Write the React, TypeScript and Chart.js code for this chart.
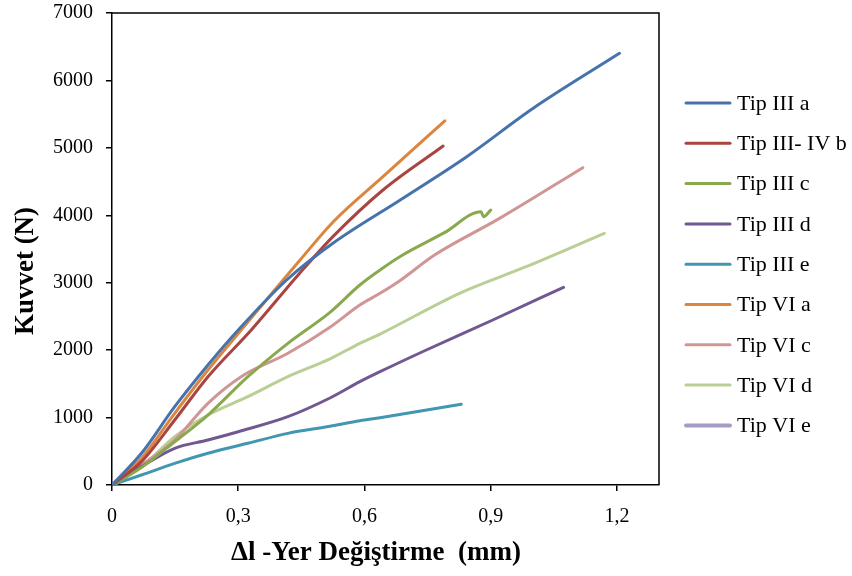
import React, { useEffect, useRef } from "react";
import { Chart, registerables } from "chart.js";

Chart.register(...registerables);

// ---- data ----
const SERIES_NAMES = [
  "Tip III a",
  "Tip III- IV b",
  "Tip III c",
  "Tip III d",
  "Tip III e",
  "Tip VI a",
  "Tip VI c",
  "Tip VI d",
  "Tip VI e",
];
const SERIES_COLORS = [
  "#4673AB",
  "#A94441",
  "#8AA84E",
  "#715892",
  "#4197B0",
  "#DC853F",
  "#D09694",
  "#B9CF96",
  "#A79BC3",
];

const tip3a_x = [0, 0.07, 0.149, 0.228, 0.3, 0.415, 0.525, 0.685, 0.843, 1.001, 1.206];
const tip3a_y = [0, 470, 1161, 1780, 2299, 3040, 3585, 4227, 4869, 5587, 6402];

const tip34b_x = [0, 0.07, 0.149, 0.228, 0.331, 0.446, 0.525, 0.644, 0.787];
const tip34b_y = [0, 346, 964, 1606, 2299, 3140, 3683, 4375, 5027];

const tip3c_x = [0, 0.07, 0.149, 0.228, 0.323, 0.418, 0.518, 0.589, 0.637, 0.684, 0.79, 0.877, 0.883, 0.9];
const tip3c_y = [0, 260, 642, 1038, 1606, 2101, 2560, 2966, 3189, 3386, 3742, 4053, 3980, 4078];

const tip3d_x = [0, 0.07, 0.149, 0.228, 0.3, 0.418, 0.518, 0.589, 0.637, 0.747, 0.905, 1.073];
const tip3d_y = [0, 272, 544, 667, 790, 1013, 1290, 1532, 1680, 2002, 2447, 2932];

const tip3e_x = [0, 0.07, 0.149, 0.228, 0.323, 0.418, 0.518, 0.589, 0.637, 0.83];
const tip3e_y = [0, 148, 321, 470, 618, 766, 870, 954, 998, 1197];

const tip6a_x = [0, 0.07, 0.149, 0.228, 0.307, 0.447, 0.526, 0.644, 0.791];
const tip6a_y = [0, 396, 1063, 1705, 2299, 3337, 3905, 4573, 5400];

const tip6c_x = [0, 0.07, 0.149, 0.228, 0.307, 0.418, 0.518, 0.589, 0.637, 0.684, 0.764, 0.92, 1.119];
const tip6c_y = [0, 297, 667, 1211, 1606, 1953, 2340, 2669, 2843, 3030, 3400, 3950, 4706];

const tip6d_x = [0, 0.07, 0.149, 0.228, 0.323, 0.418, 0.518, 0.589, 0.637, 0.826, 0.984, 1.17];
const tip6d_y = [0, 270, 716, 1038, 1310, 1606, 1870, 2101, 2239, 2843, 3237, 3733];

const tip6e_x: number[] = [];
const tip6e_y: number[] = [];

const SERIES_X = [tip3a_x, tip34b_x, tip3c_x, tip3d_x, tip3e_x, tip6a_x, tip6c_x, tip6d_x, tip6e_x];
const SERIES_Y = [tip3a_y, tip34b_y, tip3c_y, tip3d_y, tip3e_y, tip6a_y, tip6c_y, tip6d_y, tip6e_y];

const X_TICKS = [0, 0.3, 0.6, 0.9, 1.2];
const X_MIN = 0;
const X_MAX = 1.3;
const Y_MIN = 0;
const Y_MAX = 7000;
const Y_STEP = 1000;

const X_TITLE = "Δl -Yer Değiştirme  (mm)";
const Y_TITLE = "Kuvvet (N)";

const FONT = '"Liberation Serif", "Times New Roman", serif';

export default function App() {
  const canvasRef = useRef<HTMLCanvasElement | null>(null);

  useEffect(() => {
    document.body.style.margin = "0";
    const canvas = canvasRef.current;
    if (!canvas) return;

    const datasets = SERIES_NAMES.map((name, i) => ({
      label: name,
      data: SERIES_X[i].map((x, j) => ({ x, y: SERIES_Y[i][j] })),
      borderColor: SERIES_COLORS[i],
      backgroundColor: SERIES_COLORS[i],
      borderWidth: i === 8 ? 4 : 3,
      showLine: true,
      pointRadius: 0,
      pointHoverRadius: 0,
      cubicInterpolationMode: "monotone" as const,
      borderCapStyle: "round" as const,
      borderJoinStyle: "round" as const,
      fill: false,
    }));

    const framePlugin = {
      id: "frameAndText",
      afterDraw(chart: any) {
        const { ctx, chartArea } = chart;
        ctx.save();
        // top + right frame lines
        ctx.strokeStyle = "#000";
        ctx.lineWidth = 1.5;
        ctx.beginPath();
        ctx.moveTo(chartArea.left, chartArea.top);
        ctx.lineTo(chartArea.right, chartArea.top);
        ctx.lineTo(chartArea.right, chartArea.bottom);
        ctx.stroke();

        // axis titles
        ctx.fillStyle = "#000";
        ctx.font = `bold 27px ${FONT}`;
        ctx.textAlign = "center";
        ctx.textBaseline = "middle";
        ctx.fillText(X_TITLE, 376, 553);
        ctx.save();
        ctx.translate(26, 271);
        ctx.rotate(-Math.PI / 2);
        ctx.fillText(Y_TITLE, 0, 0);
        ctx.restore();

        // legend
        const lx = chartArea.right + 27;
        const top = 103;
        const step = 40.3;
        ctx.font = `22px ${FONT}`;
        ctx.textAlign = "left";
        chart.data.datasets.forEach((ds: any, i: number) => {
          const y = top + i * step;
          ctx.strokeStyle = ds.borderColor;
          ctx.lineWidth = ds.borderWidth;
          ctx.lineCap = "round";
          ctx.beginPath();
          ctx.moveTo(lx, y);
          ctx.lineTo(lx + 44, y);
          ctx.stroke();
          ctx.fillStyle = "#000";
          ctx.fillText(ds.label, lx + 51, y + 1);
        });
        ctx.restore();
      },
    };

    const chart = new Chart(canvas, {
      type: "scatter",
      data: { datasets },
      options: {
        animation: false,
        responsive: false,
        devicePixelRatio: 1,
        layout: { padding: { top: 13, right: 193, bottom: 0, left: 0 } },
        plugins: {
          legend: { display: false },
          tooltip: { enabled: false },
        },
        scales: {
          x: {
            type: "linear",
            min: X_MIN,
            max: X_MAX,
            afterBuildTicks: (scale: any) => {
              scale.ticks = X_TICKS.map((v) => ({ value: v }));
            },
            afterFit: (scale: any) => {
              scale.height = 91;
              scale.paddingLeft = 0;
              scale.paddingRight = 0;
            },
            ticks: {
              color: "#000",
              font: { family: FONT, size: 20 },
              padding: 14,
              maxRotation: 0,
              autoSkip: false,
              callback: (v: any) => (v === 0 ? "0" : Number(v).toFixed(1).replace(".", ",")),
            },
            grid: {
              display: true,
              drawOnChartArea: false,
              drawTicks: true,
              tickLength: 6,
              color: "#000",
              lineWidth: 1.5,
            },
            border: { display: true, color: "#000", width: 1.5 },
          },
          y: {
            type: "linear",
            min: Y_MIN,
            max: Y_MAX,
            afterFit: (scale: any) => {
              scale.width = 112;
              scale.paddingTop = 0;
              scale.paddingBottom = 0;
            },
            ticks: {
              stepSize: Y_STEP,
              color: "#000",
              font: { family: FONT, size: 20 },
              padding: 13,
              callback: (v: any) => String(v),
            },
            grid: {
              display: true,
              drawOnChartArea: false,
              drawTicks: true,
              tickLength: 6,
              color: "#000",
              lineWidth: 1.5,
            },
            border: { display: true, color: "#000", width: 1.5 },
          },
        },
      },
      plugins: [framePlugin],
    });

    return () => chart.destroy();
  }, []);

  return (
    <div style={{ width: 852, height: 576, background: "#fff" }}>
      <canvas ref={canvasRef} width={852} height={576} style={{ display: "block" }} />
    </div>
  );
}
